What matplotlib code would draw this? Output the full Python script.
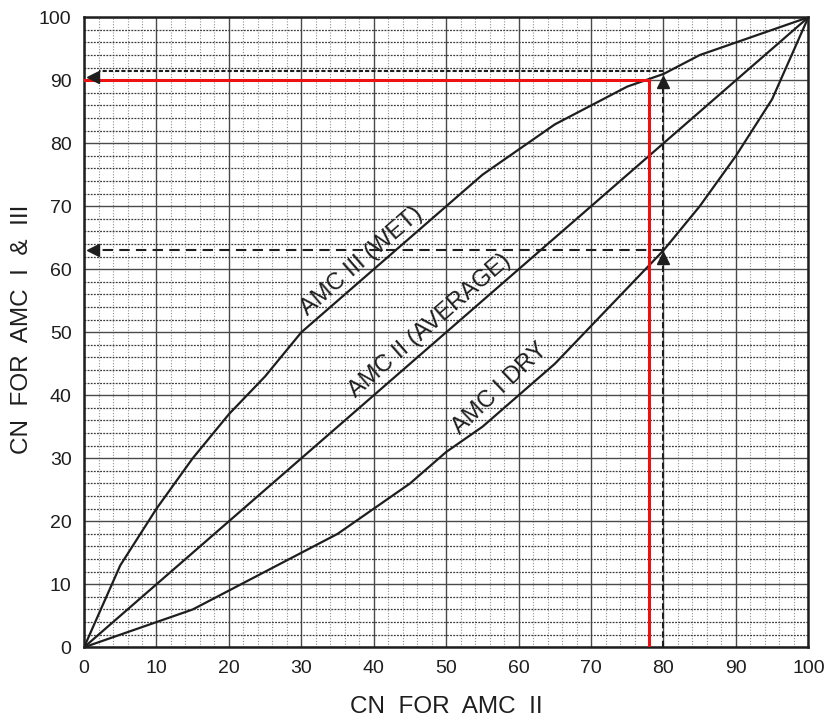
import matplotlib
matplotlib.use("Agg")
import matplotlib.pyplot as plt
import numpy as np

plt.rcParams['font.family'] = ['Liberation Sans', 'DejaVu Sans']

# Curve numbers for average antecedent moisture (AMC II)
cn_ii = [0, 5, 10, 15, 20, 25, 30, 35, 40, 45, 50, 55, 60, 65, 70, 75, 80, 85, 90, 95, 100]
# Equivalent curve numbers for wet (AMC III) and dry (AMC I) conditions
cn_iii = [0, 13, 22, 30, 37, 43, 50, 55, 60, 65, 70, 75, 79, 83, 86, 89, 91, 94, 96, 98, 100]
cn_i = [0, 2, 4, 6, 9, 12, 15, 18, 22, 26, 31, 35, 40, 45, 51, 57, 63, 70, 78, 87, 100]

# Worked example readings
example_red_x = 78
example_red_y = 90
example_x = 80
example_wet = 91
example_dry = 63

ink = '#1e1e1e'

fig = plt.figure(figsize=(8.24, 7.2), dpi=100)
ax = fig.add_axes([0.102, 0.101, 0.879, 0.875])

ax.set_xlim(0, 100)
ax.set_ylim(0, 100)
ax.set_xticks(np.arange(0, 101, 10))
ax.set_yticks(np.arange(0, 101, 10))
ax.set_xticks(np.arange(0, 101, 2), minor=True)
ax.set_yticks(np.arange(0, 101, 2), minor=True)

# grid: solid major lines, dotted minor lines
ax.grid(which='major', color='#4a4a4a', linewidth=1.0, linestyle='-', zorder=0)
ax.xaxis.grid(which='minor', color='#909090', linewidth=0.8, linestyle=(0, (1, 1.5)), zorder=0)
ax.yaxis.grid(which='minor', color='#3c3c3c', linewidth=0.9, linestyle=(0, (1.5, 1)), zorder=0)
ax.set_axisbelow(True)

ax.tick_params(which='both', length=0, labelsize=14, pad=9, colors=ink)
for s in ax.spines.values():
    s.set_linewidth(1.8)
    s.set_color(ink)

# curves
ax.plot([0, 100], [0, 100], color=ink, lw=1.6, zorder=3)
ax.plot(cn_ii, cn_iii, color=ink, lw=1.6, zorder=3)
ax.plot(cn_ii, cn_i, color=ink, lw=1.6, zorder=3)

# curve labels
lbl = dict(fontsize=17, color=ink, ha='center', va='center', zorder=4)
ax.text(38.3, 61.3, 'AMC III (WET)', rotation=41, **lbl)
ax.text(47.8, 51.1, 'AMC II (AVERAGE)', rotation=41, **lbl)
ax.text(57.4, 41.1, 'AMC I DRY', rotation=43.5, **lbl)

# construction lines for the example at CN 80
ax.plot([example_x, example_x], [0, example_wet - 2], color=ink, lw=1.5,
        linestyle=(0, (3, 1.5)), zorder=3)
ax.plot([example_x, 2], [example_wet + 0.5, example_wet + 0.5], color=ink, lw=1.5,
        linestyle=(0, (2, 1)), zorder=3)
ax.plot([example_x, 2], [example_dry, example_dry], color=ink, lw=1.5,
        linestyle=(0, (5, 3)), zorder=3)

# arrow heads
ax.plot([example_x], [example_wet - 1.2], marker='^', ms=9, color=ink, zorder=5)
ax.plot([example_x], [example_dry - 1.2], marker='^', ms=9, color=ink, zorder=5)
ax.plot([1.3], [example_red_y + 0.5], marker='<', ms=9, color=ink, zorder=5, clip_on=False)
ax.plot([1.3], [example_dry], marker='<', ms=9, color=ink, zorder=5, clip_on=False)

# red example path
ax.plot([example_red_x, example_red_x, 0], [0, example_red_y, example_red_y],
        color='#ee1111', lw=2.2, zorder=4)

ax.set_xlabel('CN  FOR  AMC  II', fontsize=17.5, color=ink)
ax.set_ylabel('CN  FOR  AMC  I  &  III', fontsize=17.5, color=ink)
ax.xaxis.set_label_coords(0.5, -0.078)
ax.yaxis.set_label_coords(-0.07, 0.505)

fig.savefig('out.png', dpi=100, facecolor='white')
